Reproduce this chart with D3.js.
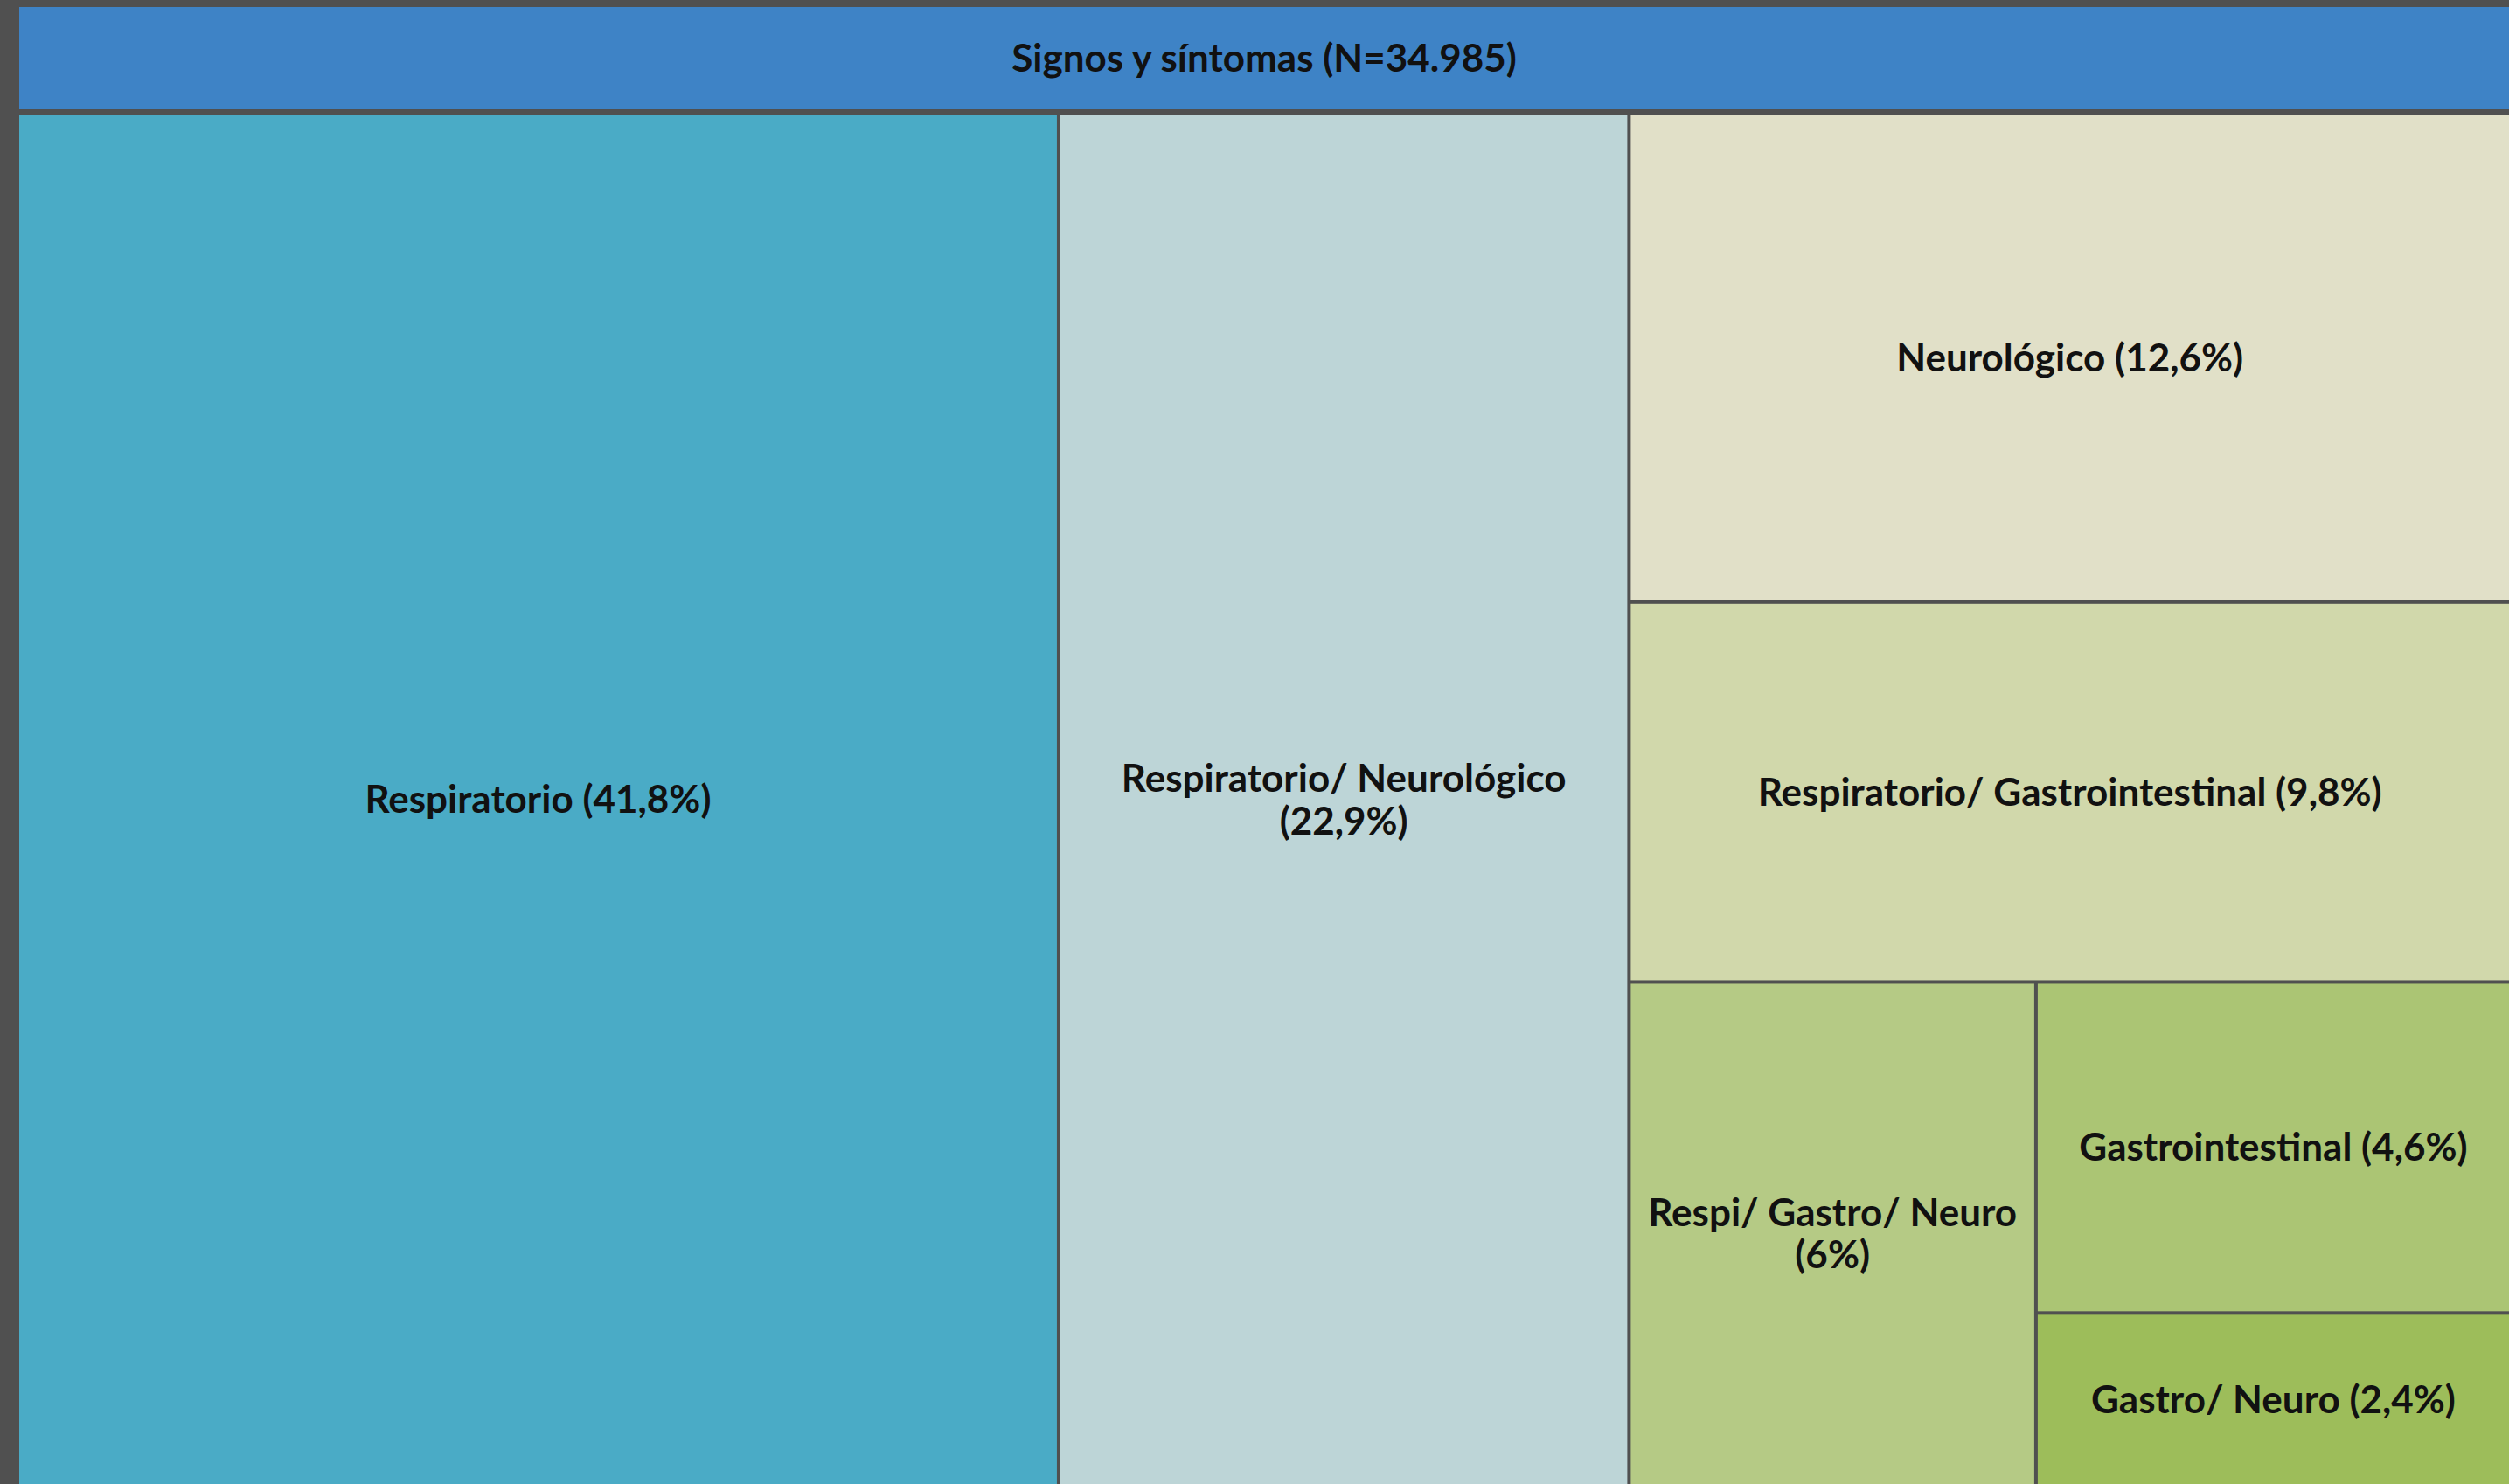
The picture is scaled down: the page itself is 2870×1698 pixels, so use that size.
<!DOCTYPE html>
<html>
<head>
<meta charset="utf-8">
<script src="https://cdn.jsdelivr.net/npm/d3@7"></script>
<style>
  html, body { margin: 0; padding: 0; background: #505050; }
  svg { display: block; }
</style>
</head>
<body>
<svg id="chart"></svg>
<script>
// data
const categories = ["Respiratorio", "Respiratorio/ Neurológico", "Neurológico",
  "Respiratorio/ Gastrointestinal", "Respi/ Gastro/ Neuro", "Gastrointestinal", "Gastro/ Neuro"];
const percents = [41.8, 22.9, 12.6, 9.8, 6, 4.6, 2.4];
const fills = ["#4AABC6", "#BDD5D7", "#E1E0C8", "#D1D8AB", "#B5CA85", "#ABC574", "#9DBD5A"];
// layout grouping (how the Excel treemap split the space)
const parents = ["root", "root", "g1", "g1", "g2", "g3", "g3"];
const groupIds = ["g1", "g2", "g3"];
const groupParents = ["root", "g1", "g2"];
const rootLabel = "Signos y síntomas";
const totalN = 34985;

let width = 2870;
let height = 1698;
let leftPad = 22;
let topBand = 8;
let headerBottom = 125;
let treeTop = 132;
let fontSize = 44;
let fontFamily = "Lato, 'Open Sans', sans-serif";

let locale = d3.formatLocale({decimal: ",", thousands: ".", grouping: [3], currency: ["", ""]});
let fmtPct = locale.format(".1~f");
let fmtN = locale.format(",d");

let svg = d3.select("#chart").attr("width", width).attr("height", height);

svg.append("rect")
  .attr("width", width).attr("height", height)
  .attr("fill", "#505050");

// build rows in the order they are laid out
let rows = [{id: "root", parent: null}];
function addRows(parentId) {
  categories.forEach(function(c, i) {
    if (parents[i] == parentId) rows.push({id: c, parent: parentId, value: percents[i], fill: fills[i]});
  });
  groupIds.forEach(function(g, i) {
    if (groupParents[i] == parentId) {
      rows.push({id: g, parent: parentId});
      addRows(g);
    }
  });
}
addRows("root");

let root = d3.stratify().id(d => d.id).parentId(d => d.parent)(rows)
  .sum(d => d.value || 0);

d3.treemap()
  .tile(d3.treemapSliceDice)
  .size([width, height])
  .paddingTop(d => d.depth == 0 ? treeTop : 0)
  .paddingLeft(d => d.depth == 0 ? leftPad : 0)
  .paddingInner(4)(root);

// header banner
svg.append("rect")
  .attr("x", root.x0 + leftPad)
  .attr("y", topBand)
  .attr("width", root.x1 - root.x0 - leftPad)
  .attr("height", headerBottom - topBand)
  .attr("fill", "#3E83C6");

svg.append("text")
  .attr("x", (root.x0 + leftPad + root.x1) / 2)
  .attr("y", (topBand + headerBottom) / 2)
  .attr("dy", "0.35em")
  .attr("text-anchor", "middle")
  .style("font-family", fontFamily)
  .style("font-weight", "bold")
  .style("font-size", fontSize + "px")
  .style("fill", "#111")
  .text(rootLabel + " (N=" + fmtN(totalN) + ")");

let leaves = root.leaves();

let cells = svg.selectAll(".cell")
  .data(leaves)
  .enter().append("g")
  .attr("class", "cell");

cells.append("rect")
  .attr("x", d => d.x0)
  .attr("y", d => d.y0)
  .attr("width", d => d.x1 - d.x0)
  .attr("height", d => d.y1 - d.y0)
  .attr("fill", d => d.data.fill);

// labels, wrapped by words when they do not fit
cells.each(function(d) {
  let g = d3.select(this);
  let label = d.data.id + " (" + fmtPct(d.data.value) + "%)";
  let maxW = d.x1 - d.x0 - 24;
  let words = label.split(" ");
  let lines = [];
  let line = "";
  let probe = g.append("text")
    .style("font-family", fontFamily)
    .style("font-weight", "bold")
    .style("font-size", fontSize + "px");
  words.forEach(function(w) {
    let test = line ? line + " " + w : w;
    probe.text(test);
    if (probe.node().getComputedTextLength() > maxW && line) {
      lines.push(line);
      line = w;
    } else {
      line = test;
    }
  });
  lines.push(line);
  probe.remove();

  let lineH = fontSize * 1.1;
  let cx = (d.x0 + d.x1) / 2;
  let cy = (d.y0 + d.y1) / 2 - (lines.length - 1) * lineH / 2;
  let t = g.append("text")
    .attr("text-anchor", "middle")
    .style("font-family", fontFamily)
    .style("font-weight", "bold")
    .style("font-size", fontSize + "px")
    .style("fill", "#111");
  lines.forEach(function(l, i) {
    t.append("tspan")
      .attr("x", cx)
      .attr("y", cy + i * lineH)
      .attr("dy", "0.35em")
      .text(l);
  });
});
</script>
</body>
</html>
